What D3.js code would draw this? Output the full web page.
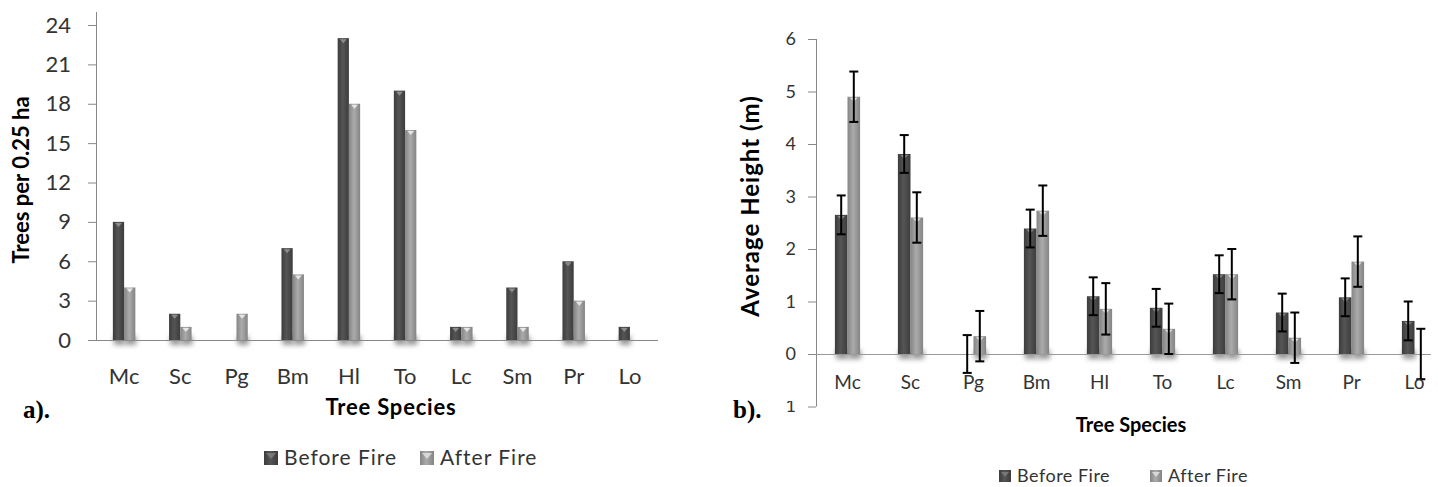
<!DOCTYPE html>
<html>
<head>
<meta charset="utf-8">
<script src="https://cdn.jsdelivr.net/npm/d3@7"></script>
<style>
  body { margin: 0; background: #fff; }
  svg { display: block; }
  text { font-family: Lato, "Open Sans", sans-serif; }
</style>
</head>
<body>
<script>
// tree species on both panels
var species = ["Mc", "Sc", "Pg", "Bm", "Hl", "To", "Lc", "Sm", "Pr", "Lo"];

// a) trees per 0.25 ha
var treesBefore = [9, 2, 0, 7, 23, 19, 1, 4, 6, 1];
var treesAfter  = [4, 1, 2, 5, 18, 16, 1, 1, 3, 0];
var treesTicks  = [0, 3, 6, 9, 12, 15, 18, 21, 24];

// b) average height (m) with error bars
var heightBefore = [2.65, 3.81, 0, 2.39, 1.10, 0.88, 1.52, 0.79, 1.08, 0.63];
var heightAfter  = [4.90, 2.60, 0.34, 2.73, 0.86, 0.48, 1.52, 0.31, 1.76, 0];
var errBefore    = [0.37, 0.36, 0.36, 0.36, 0.36, 0.36, 0.36, 0.36, 0.36, 0.37];
var errAfter     = [0.48, 0.48, 0.48, 0.48, 0.49, 0.48, 0.48, 0.48, 0.48, 0.48];
var heightTicks  = [-1, 0, 1, 2, 3, 4, 5, 6];

var seriesNames = ["Before Fire", "After Fire"];

var svg = d3.select("body").append("svg")
    .attr("width", 1438)
    .attr("height", 487);

var defs = svg.append("defs");

function addGradient(id, edge, mid)
{
    var g = defs.append("linearGradient").attr("id", id)
        .attr("x1", "0%").attr("x2", "100%").attr("y1", "0%").attr("y2", "0%");
    g.append("stop").attr("offset", "0%").attr("stop-color", edge);
    g.append("stop").attr("offset", "45%").attr("stop-color", mid);
    g.append("stop").attr("offset", "100%").attr("stop-color", edge);
}
addGradient("gradDark", "#3c3c3c", "#555555");
addGradient("gradLight", "#848484", "#ababab");

var shadow = defs.append("filter").attr("id", "shadow")
    .attr("x", "-50%").attr("y", "-50%").attr("width", "200%").attr("height", "200%");
shadow.append("feGaussianBlur").attr("stdDeviation", 2.5);

// hides the top of the lowest label on panel b, as in the original
defs.append("clipPath").attr("id", "clipLow")
  .append("rect").attr("x", 787).attr("y", 401).attr("width", 40).attr("height", 30);

var fills = ["url(#gradDark)", "url(#gradLight)"];

function drawBars(g, x, y, before, after, y0)
{
    var bw = x.bandwidth() * 0.2;
    var rows = [];
    species.forEach(function(s, i) {
        rows.push({ s: s, k: 0, v: before[i] });
        rows.push({ s: s, k: 1, v: after[i] });
    });
    rows = rows.filter(function(d) { return d.v > 0; });

    // soft shadow at the foot of each bar
    g.selectAll("rect.shadow").data(rows).enter()
        .append("rect")
        .attr("class", "shadow")
        .attr("x", function(d) { return x(d.s) + x.bandwidth() / 2 - bw + d.k * bw + 1; })
        .attr("y", y(y0) - 4)
        .attr("width", bw)
        .attr("height", 9)
        .attr("fill", "#9a9a9a")
        .attr("filter", "url(#shadow)");

    g.selectAll("rect.bar").data(rows).enter()
        .append("rect")
        .attr("class", "bar")
        .attr("x", function(d) { return x(d.s) + x.bandwidth() / 2 - bw + d.k * bw; })
        .attr("y", function(d) { return y(d.v); })
        .attr("width", bw)
        .attr("height", function(d) { return y(y0) - y(d.v); })
        .attr("fill", function(d) { return fills[d.k]; });

    // little bevel triangle on top of the bars
    g.selectAll("path.cap").data(rows).enter()
        .append("path")
        .attr("class", "cap")
        .attr("d", function(d) {
            var cx = x(d.s) + x.bandwidth() / 2 - bw / 2 + d.k * bw;
            var t = y(d.v) + 1;
            return "M" + (cx - bw * 0.3) + "," + t + "L" + (cx + bw * 0.3) + "," + t + "L" + cx + "," + (t + 4) + "Z";
        })
        .attr("fill", function(d) { return d.k ? "#e6e6e6" : "#8c8c8c"; });
}

function drawLegend(g, x0, x1, cy, size, fontSize, spacing)
{
    [x0, x1].forEach(function(lx, k) {
        g.append("rect")
            .attr("x", lx).attr("y", cy - size / 2)
            .attr("width", size).attr("height", size)
            .attr("fill", fills[k]);
        g.append("path")
            .attr("d", "M" + (lx + 2) + "," + (cy - size / 2 + 2) + "L" + (lx + size - 2) + "," + (cy - size / 2 + 2) + "L" + (lx + size / 2) + "," + (cy + 1) + "Z")
            .attr("fill", k ? "#d8d8d8" : "#777");
        g.append("text")
            .attr("x", lx + size + 6).attr("y", cy)
            .attr("dy", "0.35em")
            .style("font-size", fontSize + "px")
            .style("letter-spacing", spacing + "px")
            .attr("fill", "#333")
            .text(seriesNames[k]);
    });
}

// ---------- a) trees per 0.25 ha ----------
var ga = svg.append("g");

var xa = d3.scaleBand().domain(species).range([96, 658]);
var ya = d3.scaleLinear().domain([0, 24]).range([340, 25]);

var yAxisA = ga.append("g")
    .attr("transform", "translate(96,0)")
    .call(d3.axisLeft(ya).tickValues(treesTicks).tickFormat(d3.format("d")).tickSize(8).tickSizeOuter(0).tickPadding(17));
yAxisA.select(".domain").remove();
yAxisA.selectAll("line").attr("stroke", "#888");
yAxisA.selectAll("text").style("font-size", "22px").attr("fill", "#333").style("font-family", "Lato, sans-serif");

ga.append("line").attr("x1", 96.5).attr("x2", 96.5).attr("y1", 12).attr("y2", 340).attr("stroke", "#888");

drawBars(ga, xa, ya, treesBefore, treesAfter, 0);

ga.append("line").attr("x1", 96).attr("x2", 658).attr("y1", 340.5).attr("y2", 340.5).attr("stroke", "#888");

var xAxisA = ga.append("g")
    .attr("transform", "translate(0,340)")
    .call(d3.axisBottom(xa).tickSize(0).tickPadding(28));
xAxisA.select(".domain").remove();
xAxisA.selectAll("text").style("font-size", "22px").attr("fill", "#333").style("font-family", "Lato, sans-serif");

ga.append("text")
    .attr("transform", "translate(29,180) rotate(-90)")
    .attr("text-anchor", "middle")
    .style("font-size", "22px").style("font-weight", "bold")
    .text("Trees per 0.25 ha");

ga.append("text")
    .attr("x", 391).attr("y", 415)
    .attr("text-anchor", "middle")
    .style("font-size", "22px").style("font-weight", "bold")
    .style("letter-spacing", "0.8px")
    .text("Tree Species");

ga.append("text")
    .attr("x", 23).attr("y", 418)
    .style("font-family", "'Liberation Serif', serif")
    .style("font-size", "25px").style("font-weight", "bold")
    .text("a).");

drawLegend(ga, 264, 420, 458, 14, 21, 1);

// ---------- b) average height ----------
var gb = svg.append("g");

var xb = d3.scaleBand().domain(species).range([816, 1446]);
var yb = d3.scaleLinear().domain([-1, 6]).range([406.5, 39]);

var yAxisB = gb.append("g")
    .attr("transform", "translate(816,0)")
    .call(d3.axisLeft(yb).tickValues(heightTicks).tickFormat(d3.format("d")).tickSize(8).tickSizeOuter(0).tickPadding(12));
yAxisB.select(".domain").remove();
yAxisB.selectAll("line").attr("stroke", "#888");
yAxisB.selectAll("text").style("font-size", "18px").attr("fill", "#333").style("font-family", "Lato, sans-serif");

// lowest label: draw it in panel coordinates so it can be clipped
yAxisB.selectAll(".tick").filter(function(d) { return d < 0; })
    .select("text").remove();
gb.append("text")
    .attr("x", 796).attr("y", yb(-1))
    .attr("dy", "0.32em")
    .attr("text-anchor", "end")
    .attr("clip-path", "url(#clipLow)")
    .style("font-size", "18px").attr("fill", "#333")
    .text(d3.format("d")(heightTicks[0]));

gb.append("line").attr("x1", 816.5).attr("x2", 816.5).attr("y1", 39).attr("y2", 406.5).attr("stroke", "#888");

drawBars(gb, xb, yb, heightBefore, heightAfter, 0);

gb.append("line").attr("x1", 816).attr("x2", 1431).attr("y1", yb(0) + 0.5).attr("y2", yb(0) + 0.5).attr("stroke", "#999");

// error bars
var errRows = [];
species.forEach(function(s, i) {
    errRows.push({ s: s, k: 0, v: heightBefore[i], e: errBefore[i] });
    errRows.push({ s: s, k: 1, v: heightAfter[i], e: errAfter[i] });
});
var bwb = xb.bandwidth() * 0.2;
var err = gb.selectAll("g.err").data(errRows).enter().append("g").attr("class", "err")
    .attr("transform", function(d) { return "translate(" + (xb(d.s) + xb.bandwidth() / 2 - bwb / 2 + d.k * bwb) + ",0)"; });
err.append("line")
    .attr("y1", function(d) { return yb(d.v + d.e); })
    .attr("y2", function(d) { return yb(d.v - d.e); })
    .attr("stroke", "#000").attr("stroke-width", 2);
err.selectAll("line.cap").data(function(d) { return [d.v + d.e, d.v - d.e]; }).enter()
    .append("line").attr("class", "cap")
    .attr("x1", -4.5).attr("x2", 4.5)
    .attr("y1", function(v) { return yb(v); })
    .attr("y2", function(v) { return yb(v); })
    .attr("stroke", "#000").attr("stroke-width", 2);

var xAxisB = gb.append("g")
    .attr("transform", "translate(0," + yb(0) + ")")
    .call(d3.axisBottom(xb).tickSize(0).tickPadding(22));
xAxisB.select(".domain").remove();
xAxisB.selectAll("text").style("font-size", "19px").attr("fill", "#333").style("font-family", "Lato, sans-serif");

gb.append("text")
    .attr("transform", "translate(759,206) rotate(-90)")
    .attr("text-anchor", "middle")
    .style("font-size", "24px").style("font-weight", "bold")
    .style("letter-spacing", "1px")
    .text("Average Height (m)");

gb.append("text")
    .attr("x", 1131).attr("y", 432)
    .attr("text-anchor", "middle")
    .style("font-size", "20px").style("font-weight", "bold")
    .text("Tree Species");

gb.append("text")
    .attr("x", 733).attr("y", 418)
    .style("font-family", "'Liberation Serif', serif")
    .style("font-size", "25px").style("font-weight", "bold")
    .text("b).");

drawLegend(gb, 999, 1150, 476, 12, 18, 0.5);
</script>
</body>
</html>
